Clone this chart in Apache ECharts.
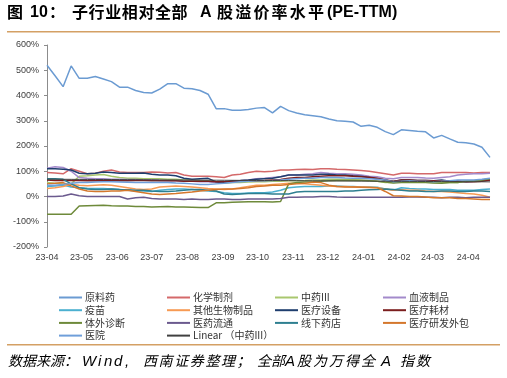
<!DOCTYPE html>
<html><head><meta charset="utf-8">
<script src="https://cdn.jsdelivr.net/npm/echarts@6/dist/echarts.min.js"></script>
<style>html,body{margin:0;padding:0;background:#fff}#c{width:507px;height:378px}</style>
</head><body><div id="c"></div>
<script>
const dates = ['2023-04-01','2023-04-08','2023-04-15','2023-04-22','2023-04-29','2023-05-06','2023-05-13','2023-05-20','2023-05-27','2023-06-03','2023-06-10','2023-06-17','2023-06-24','2023-07-01','2023-07-08','2023-07-15','2023-07-22','2023-07-29','2023-08-05','2023-08-12','2023-08-19','2023-08-26','2023-09-02','2023-09-09','2023-09-16','2023-09-23','2023-09-30','2023-10-07','2023-10-14','2023-10-21','2023-10-28','2023-11-04','2023-11-11','2023-11-18','2023-11-25','2023-12-02','2023-12-09','2023-12-16','2023-12-23','2023-12-30','2024-01-06','2024-01-13','2024-01-20','2024-01-27','2024-02-03','2024-02-10','2024-02-17','2024-02-24','2024-03-02','2024-03-09','2024-03-16','2024-03-23','2024-03-30','2024-04-06','2024-04-13','2024-04-20'];

const yuanliaoyao = [520,478,435,517,468,468,475,465,455,433,433,420,412,410,425,447,447,429,427,420,405,348,348,342,342,345,350,352,331,357,340,331,324,320,316,307,300,298,295,278,282,274,257,245,264,261,258,256,232,242,228,215,213,208,195,155];
const huaxuezhiji = [95,93,90,110,100,90,92,100,105,97,95,95,95,97,96,93,95,85,80,80,80,78,75,85,88,95,100,98,100,105,105,107,108,107,110,110,108,107,105,103,100,95,90,85,92,92,90,90,90,95,95,95,95,93,95,95];
const zhongyao = [55,52,50,50,80,82,85,87,80,75,72,72,70,70,70,68,68,65,65,63,62,55,52,55,55,57,58,58,60,60,62,62,63,65,65,68,68,67,66,65,63,60,55,55,58,58,57,56,55,55,55,55,62,62,65,68];
const xueye = [112,118,115,100,75,72,70,70,68,68,67,67,65,65,63,62,62,60,60,58,58,55,58,60,62,65,70,72,75,78,85,85,88,90,95,92,90,90,88,85,80,78,72,70,75,75,75,73,72,75,78,85,88,90,90,92];
const yimiao = [40,42,45,38,35,33,32,32,30,28,25,22,22,20,25,28,30,30,28,25,22,20,15,12,12,14,15,15,18,25,35,38,40,40,40,42,42,40,40,38,38,37,30,25,35,32,30,30,28,28,28,25,25,25,28,30];
const qitashengwu = [32,35,40,48,45,43,45,47,45,40,35,30,28,30,38,40,42,40,38,35,32,30,28,30,35,40,45,45,48,50,52,52,50,48,45,42,40,40,38,38,37,35,30,25,27,25,25,22,20,20,18,15,12,10,5,-3];
const yiliaoshebei = [110,110,108,105,92,90,92,97,95,92,92,92,93,88,85,85,82,72,68,70,72,58,55,62,63,65,68,70,72,78,85,85,85,85,88,88,85,85,82,80,75,70,65,58,65,65,63,63,62,65,60,60,58,60,62,65];
const yiliaohaocai = [65,63,63,63,63,62,62,63,63,62,62,63,63,62,62,62,62,60,60,60,60,58,58,60,60,62,62,63,65,67,72,75,75,78,80,82,82,82,80,78,76,72,65,60,65,65,63,63,62,62,60,60,58,58,60,65];
const tiwaizhenduan = [-70,-70,-70,-70,-38,-37,-36,-35,-37,-38,-38,-40,-40,-42,-41,-40,-42,-42,-43,-44,-44,-25,-25,-23,-22,-21,-21,-21,-22,-20,50,55,57,58,60,62,63,63,63,63,62,60,57,53,55,55,55,55,53,52,55,55,60,60,65,70];
const yiyaoliutong = [0,0,2,10,3,0,0,0,0,0,-10,-5,-3,-8,-10,-10,-10,-12,-10,-12,-12,-10,-10,-12,-12,-10,-10,-10,-10,-8,-3,-3,-2,-2,0,0,-2,-3,-3,-3,-3,-3,-3,-3,-3,-2,-2,-3,-3,-5,-3,-3,-5,-3,-3,-3];
const xianxiayaodian = [70,70,68,50,35,30,28,28,30,28,27,25,25,22,20,20,22,25,28,28,25,22,10,8,10,12,12,12,10,10,10,18,20,20,20,20,20,22,22,25,27,28,30,28,25,22,22,20,20,22,22,20,20,22,22,20];
const yanfawaibao = [50,52,55,42,30,22,20,20,22,22,25,20,15,10,8,10,12,15,18,22,25,28,30,30,32,35,40,42,45,45,48,50,52,57,55,45,40,38,38,37,36,35,20,3,2,0,0,-2,-5,-5,-5,-8,-8,-10,-12,-12];
const yiyuan = [45,45,48,52,55,55,57,58,58,57,56,55,55,55,55,55,53,52,50,48,48,50,52,55,58,60,62,62,63,65,68,70,72,72,75,75,75,73,72,72,70,68,65,58,60,62,60,60,58,60,62,65,65,65,68,72];

const names = ['原料药','化学制剂','中药III','血液制品','疫苗','其他生物制品','医疗设备','医疗耗材','体外诊断','医药流通','线下药店','医疗研发外包','医院','Linear （中药III）'];
const colors = ['#6B9BD2','#D4696A','#A9C76E','#A38ACB','#4BB0D0','#F79A53','#1F3E6E','#7B1E1E','#6E8A3A','#6B5A8E','#2E7F90','#D4772C','#6F9FDA','#404040'];
const yTicks = [-200,-100,0,100,200,300,400,500,600];

// linear trendline of 中药III (least squares)
const n = zhongyao.length;
let sx=0,sy=0,sxx=0,sxy=0;
zhongyao.forEach((v,i)=>{sx+=i;sy+=v;sxx+=i*i;sxy+=i*v;});
const slope = (n*sxy - sx*sy)/(n*sxx - sx*sx);
const icpt = (sy - slope*sx)/n;
const linear = zhongyao.map((v,i)=>+(icpt + slope*i).toFixed(2));

const allVals = [yuanliaoyao,huaxuezhiji,zhongyao,xueye,yimiao,qitashengwu,yiliaoshebei,yiliaohaocai,tiwaizhenduan,yiyaoliutong,xianxiayaodian,yanfawaibao,yiyuan,linear];

const series = allVals.map((vals,k)=>({
  name: names[k], type:'line', symbol:'none', smooth:false,
  data: dates.map((d,i)=>[d, vals[i]]),
  lineStyle:{width: k===13?1:1.5, color: colors[k]},
  itemStyle:{color: colors[k]},
  z: k===0?3:2
}));

const legendBase = {orient:'vertical', top: 291.5, itemWidth:23, itemHeight:2, itemGap:0.7, icon:'rect', padding:0,
  textStyle:{fontSize:10, lineHeight:12, color:'#333', fontFamily:'"Noto Sans CJK SC", sans-serif', padding:[0,0,0,-2]}, selectedMode:false};

// text layout helper: place characters at given left positions
function glyphs(chars, xs, top, font){
  return Array.from(chars).map((ch,i)=>({type:'text', left:xs[i], top:top, style:{text:ch, font:font, fill:'#000'}}));
}
function run(text, x0, adv, top, font){
  return Array.from(text).map((ch,i)=>({type:'text', left:x0+i*adv, top:top, style:{text:ch, font:font, fill:'#000'}}));
}
const TF = 'bold 16px "Noto Sans CJK SC", sans-serif';
const TL = 'bold 16px "Liberation Sans", Arial, sans-serif';
const SF = 'italic 14px "Noto Sans CJK SC", sans-serif';
const SL = 'italic 15px "Liberation Sans", Arial, sans-serif';
const graphics = [].concat(
  run('图', 7, 16, 4, TF),
  [{type:'text', left:30, top:4.5, style:{text:'10', font:TL, fill:'#000'}}],
  run('：', 49, 16, 4, TF),
  run('子行业相对全部', 72, 16.6, 4, TF),
  [{type:'text', left:200, top:4.5, style:{text:'A', font:TL, fill:'#000'}}],
  run('股溢价率水平', 217, 18.2, 4, TF),
  [{type:'text', left:327, top:4.5, style:{text:'(PE-TTM)', font:TL, fill:'#000'}}],
  [{type:'rect', shape:{x:7, y:31, width:493, height:1.5}, style:{fill:'#D4A064'}},
   {type:'rect', shape:{x:7, y:344, width:493, height:1.5}, style:{fill:'#D4A064'}}],
  run('数据来源：', 8, 14, 354, SF),
  glyphs('Wind,', [82, 98, 104, 114, 125], 354.5, SL),
  run('西南证券整理；', 143, 15.6, 354, SF),
  glyphs('全部', [257, 271], 354, SF),
  glyphs('A', [285], 354.5, SL),
  glyphs('股为万得全', [297, 313, 329, 345, 361], 354, SF),
  glyphs('A', [381], 354.5, SL),
  glyphs('指数', [400, 416], 354, SF)
);

const chart = echarts.init(document.getElementById('c'), null, {renderer:'canvas'});
chart.setOption({
  animation:false,
  color: colors,
  grid:{left:47, right:17, top:45, bottom:131, containLabel:false},
  xAxis:{type:'time', min:'2023-04-01', max:'2024-04-20',
    minInterval: 28*86400000, maxInterval: 31*86400000, splitNumber: 13,
    axisLine:{show:false}, axisTick:{show:false}, splitLine:{show:false},
    axisLabel:{formatter:'{yy}-{MM}', fontSize:9, color:'#404040', fontFamily:'"Liberation Sans", Arial', margin:6, hideOverlap:false, showMinLabel:true, showMaxLabel:false}
  },
  yAxis:{type:'value', min:-200, max:600, interval:100,
    axisLine:{show:true, lineStyle:{color:'#8C8C8C', width:1}},
    axisTick:{show:true, length:3, lineStyle:{color:'#8C8C8C'}},
    splitLine:{show:false},
    axisLabel:{formatter: v => yTicks.includes(v) ? v + '%' : '', fontSize:9, color:'#404040', fontFamily:'"Liberation Sans", Arial', margin:8}
  },
  legend:[
    Object.assign({}, legendBase, {left:59, data:['原料药','疫苗','体外诊断','医院']}),
    Object.assign({}, legendBase, {left:167, data:['化学制剂','其他生物制品','医药流通','Linear （中药III）']}),
    Object.assign({}, legendBase, {left:275, data:['中药III','医疗设备','线下药店']}),
    Object.assign({}, legendBase, {left:383, data:['血液制品','医疗耗材','医疗研发外包']})
  ],
  series: series,
  graphic: graphics
});
</script></body></html>
